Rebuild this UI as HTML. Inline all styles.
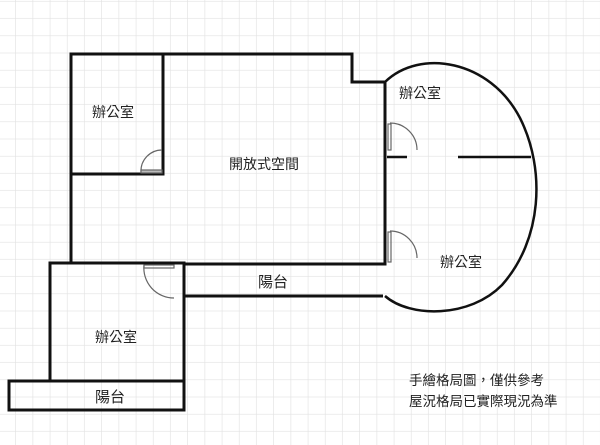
<!DOCTYPE html>
<html><head><meta charset="utf-8"><style>
html,body{margin:0;padding:0;background:#fff;}
svg{display:block;}
text{font-family:"Liberation Sans","Noto Sans CJK TC",sans-serif;fill:#222;}
</style></head><body>
<svg width="600" height="445" viewBox="0 0 600 445" xmlns="http://www.w3.org/2000/svg">
<defs>
<pattern id="g" x="-1.2" y="1.7" width="17.2" height="17.2" patternUnits="userSpaceOnUse">
<path d="M17.2 0V17.2M0 17.2H17.2" stroke="#e2e2e2" stroke-width="1.3" fill="none"/>
</pattern>
</defs>
<rect width="600" height="445" fill="#fff"/>
<rect width="600" height="445" fill="url(#g)"/>
<g fill="none" stroke="#111" stroke-width="3">
<!-- main outline -->
<path d="M71,263 V54 H352 V82 H385 V264 H185"/>
<path d="M163,54 V174 H71"/>
<path d="M185,296 H383"/>
<!-- lower office -->
<path d="M50,380 V263 H184 V410"/>
<rect x="9" y="381" width="175" height="29"/>
<!-- blob -->
<path d="M385,82 C420,48 490,60 520,118 C546,170 542,240 502,285 C470,318 410,318 385,296" stroke-width="2.5"/>
<path d="M387,157 H407 M458,157 H531" stroke-width="2.5"/>
</g>
<!-- doors -->
<g fill="none" stroke="#666" stroke-width="1.2">
<path d="M141,172 A21,21 0 0 1 162,150"/>
<rect x="141" y="170" width="21" height="3" fill="#bbb"/>
<path d="M390,123 A27,27 0 0 1 417,150"/>
<rect x="388" y="124" width="3" height="26"/>
<path d="M390,231 A27,27 0 0 1 417,258"/>
<rect x="388" y="232" width="3" height="30"/>
<path d="M144,265 A30,30 0 0 0 174,298"/>
<rect x="144" y="265" width="30" height="3"/>
</g>
<g font-size="14">
<text x="92" y="117">辦公室</text>
<text x="229" y="169">開放式空間</text>
<text x="399" y="98">辦公室</text>
<text x="440" y="267">辦公室</text>
<text x="95" y="342">辦公室</text>
<text x="258" y="287" font-size="15">陽台</text>
<text x="95" y="402" font-size="15">陽台</text>
<text x="409" y="385" font-size="13.5">手繪格局圖，僅供參考</text>
<text x="409" y="406" font-size="13.5">屋況格局已實際現況為準</text>
</g>
</svg>
</body></html>
